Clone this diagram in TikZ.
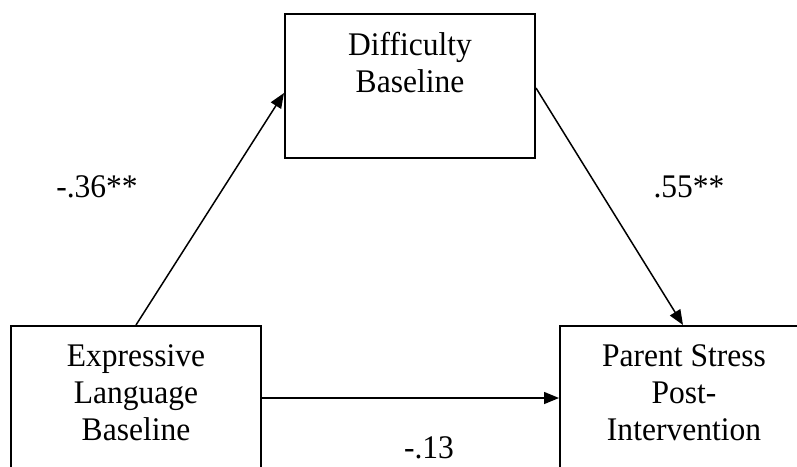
\documentclass[tikz,border=0pt]{standalone}
\usepackage{fontspec}
\setmainfont[FakeStretch=0.955]{Liberation Serif}
\usetikzlibrary{arrows.meta}
\begin{document}
\begin{tikzpicture}[x=1pt,y=-1pt,
  box/.style={draw=black,line width=2pt,minimum width=250pt,minimum height=144pt,inner sep=0pt},
  boxtext/.style={anchor=north,align=center,inner sep=0pt,font=\fontsize{33}{37}\selectfont},
  lbl/.style={anchor=base,inner sep=0pt,font=\fontsize{33}{37}\selectfont},
  arr/.style={line width=1.5pt,-{Triangle[length=15pt,width=12pt]}}]
\useasboundingbox (0,0) rectangle (797,466);
\clip (0,0) rectangle (797,466);
\node[box] (tb) at (410,86) {};
\node[box] (lb) at (136,398) {};
\node[box] (rb) at (685,398) {};
\node[boxtext] (tbt) at (410,32) {Difficulty\\Baseline};
\node[boxtext] (lbt) at (136,344) {Expressive\\Language\\Baseline};
\node[boxtext] (rbt) at (684,344) {Parent Stress\\Post-\\Intervention};
\draw[arr] (lb.north) -- ([yshift=-7pt]tb.west);
\draw[arr] ([yshift=-2pt]tb.east) -- ([xshift=-2pt]rb.north);
\draw[arr] (lb.east) -- (rb.west);
\node[lbl] (l1) at (97,197) {-.36**};
\node[lbl] (l2) at (689,197) {.55**};
\node[lbl] (l3) at (429,458) {-.13};
\end{tikzpicture}
\end{document}
